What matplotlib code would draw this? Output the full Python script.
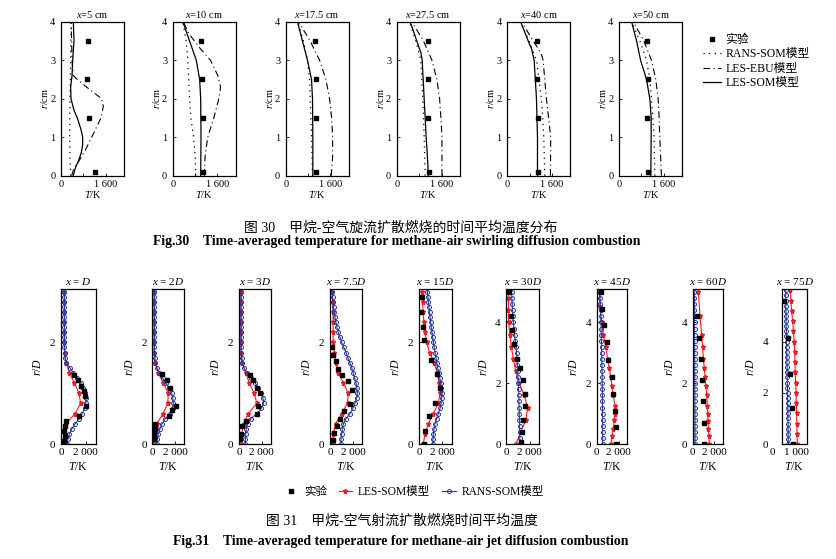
import matplotlib
matplotlib.use('Agg')
import matplotlib.pyplot as plt
from matplotlib.lines import Line2D

plt.rcParams['font.family'] = ['Liberation Serif', 'Noto Sans CJK SC']
plt.rcParams['mathtext.fontset'] = 'custom'
plt.rcParams['mathtext.rm'] = 'Liberation Serif'
plt.rcParams['mathtext.it'] = 'Liberation Serif:italic'
plt.rcParams['mathtext.bf'] = 'Liberation Serif:bold'

# ---------------- Fig.30 data (swirling flame) ----------------
top_titles = ['$x$=5 cm', '$x$=10 cm', '$x$=17.5 cm', '$x$=27.5 cm', '$x$=40 cm', '$x$=50 cm']

top_exp_r = [0.1, 1.5, 2.5, 3.5]
top_exp_T = [
    [1214, 1000, 929, 976],
    [1095, 1095, 1059, 1011],
    [1077, 1089, 1077, 1053],
    [1137, 1113, 1113, 1101],
    [1101, 1101, 1078, 1066],
    [1042, 1007, 1042, 983],
]

top_som_r = [
    [0, 0.2, 0.4, 0.6, 0.8, 1.0, 1.2, 1.5, 1.7, 2.0, 2.3, 2.6, 3.0, 3.5, 4.0],
    [0, 0.5, 1.0, 1.5, 2.0, 2.5, 3.0, 3.5, 4.0],
    [0, 1.0, 2.0, 2.5, 3.0, 3.5, 4.0],
    [0, 0.3, 1.0, 2.0, 3.0, 3.2, 3.5, 4.0],
    [0, 1.0, 2.0, 3.0, 3.3, 3.5, 4.0],
    [0, 1.0, 1.5, 2.0, 2.5, 3.0, 3.5, 4.0],
]
top_som_T = [
    [440, 512, 631, 726, 774, 774, 714, 583, 464, 357, 345, 393, 417, 464, 440],
    [1000, 1005, 1011, 1005, 999, 963, 842, 602, 361],
    [969, 969, 957, 922, 778, 598, 419],
    [1125, 1113, 1053, 981, 910, 862, 718, 479],
    [1078, 1078, 1042, 959, 864, 746, 474],
    [1137, 1149, 1149, 1101, 983, 770, 628, 450],
]

top_ebu_r = [
    [0, 0.2, 0.4, 0.7, 1.0, 1.5, 1.8, 2.0, 2.3, 2.5, 2.6, 3.0, 3.5, 4.0],
    [0, 0.5, 1.0, 1.5, 2.0, 2.3, 2.6, 3.0, 3.3, 3.7, 4.0],
    [0, 0.5, 1.0, 1.5, 2.0, 2.5, 3.0, 3.5, 4.0],
    [0, 1.0, 1.5, 2.0, 2.5, 3.0, 3.5, 4.0],
    [0, 1.0, 2.0, 3.0, 3.2, 3.5, 4.0],
    [0, 1.0, 1.5, 2.0, 2.5, 3.0, 3.5, 4.0],
]
top_ebu_T = [
    [381, 464, 655, 893, 1095, 1429, 1512, 1452, 917, 583, 440, 393, 381, 357],
    [1131, 1155, 1251, 1468, 1648, 1709, 1612, 1348, 987, 566, 385],
    [1628, 1676, 1676, 1640, 1568, 1436, 1209, 874, 455],
    [1616, 1616, 1580, 1532, 1436, 1257, 957, 539],
    [1540, 1551, 1397, 1279, 1196, 924, 509],
    [1516, 1456, 1433, 1397, 1314, 1161, 888, 509],
]

top_rans_r = [
    [0, 0.5, 1.0, 1.5, 2.0, 2.5, 3.0, 3.5, 4.0],
    [0, 0.5, 1.0, 1.5, 2.0, 2.5, 3.0, 3.5, 4.0],
    [0, 0.5, 1.0, 1.5, 2.0, 2.5, 3.0, 3.5, 4.0],
    [0, 1.0, 2.0, 3.0, 3.5, 4.0],
    [0, 1.0, 2.0, 3.0, 3.5, 4.0],
    [0, 1.0, 2.0, 2.5, 3.0, 3.5, 4.0],
]
top_rans_T = [
    [345, 320, 310, 315, 321, 330, 345, 355, 369],
    [818, 806, 746, 650, 602, 570, 541, 481, 361],
    [957, 940, 922, 900, 874, 850, 778, 634, 431],
    [1017, 981, 933, 862, 682, 455],
    [1338, 1303, 1220, 1042, 780, 450],
    [1279, 1255, 1161, 1101, 983, 746, 450],
]

# ---------------- Fig.31 data (jet flame) ----------------
bot_titles = ['$x$ = $D$', '$x$ = 2$D$', '$x$ = 3$D$', '$x$ = 7.5$D$', '$x$ = 15$D$',
              '$x$ = 30$D$', '$x$ = 45$D$', '$x$ = 60$D$', '$x$ = 75$D$']

r_near = [0.0, 0.1, 0.2, 0.3, 0.4, 0.5, 0.6, 0.7, 0.8, 0.9, 1.0, 1.1, 1.2, 1.3, 1.4, 1.5,
          1.6, 1.7, 1.8, 1.9, 2.0, 2.1, 2.2, 2.3, 2.4, 2.5, 2.6, 2.7, 2.8, 2.9, 3.0]
r_near_red = [0.0, 0.2, 0.4, 0.6, 0.8, 1.0, 1.2, 1.4, 1.6, 1.8, 2.0, 2.2, 2.4, 2.6, 2.8, 3.0]
r_far = [0.0, 0.2, 0.4, 0.6, 0.8, 1.0, 1.2, 1.4, 1.6, 1.8, 2.0, 2.2, 2.4, 2.6, 2.8, 3.0,
         3.2, 3.4, 3.6, 3.8, 4.0, 4.2, 4.4, 4.6, 4.8, 5.0]
r_far9 = [0.0, 0.2, 0.4, 0.6, 0.8, 1.0, 1.2, 1.4, 1.6, 1.8, 2.0, 2.2, 2.4, 2.6, 2.8, 3.0,
          3.2, 3.4, 3.6, 3.8, 4.0, 4.2, 4.4, 4.6, 4.8, 5.0, 5.2, 5.4, 5.6, 5.8, 6.0]
r_far9_red = [0.0, 0.4, 0.8, 1.2, 1.6, 2.0, 2.4, 2.8, 3.2, 3.6, 4.0, 4.4, 4.8, 5.2, 5.6, 6.0]

rans_r = [r_near, r_near, r_near, r_near, r_near, r_far, r_far, r_far, r_far9]
rans_T = [
    [480, 560, 680, 880, 1150, 1450, 1700, 1900, 2000, 2000, 1920, 1780, 1600, 1320, 1000, 720,
     420, 320, 290, 280, 280, 280, 280, 280, 280, 280, 280, 280, 280, 280, 280],
    [380, 440, 520, 670, 850, 1150, 1550, 1780, 1840, 1800, 1690, 1460, 1200, 900, 620, 400,
     280, 220, 180, 180, 180, 180, 180, 180, 180, 180, 180, 180, 180, 180, 180],
    [530, 560, 590, 640, 750, 1050, 1550, 1950, 2150, 2100, 1950, 1700, 1420, 1050, 680, 420,
     280, 220, 180, 180, 180, 180, 180, 180, 180, 180, 180, 180, 180, 180, 180],
    [925, 960, 1010, 1080, 1160, 1390, 1730, 1980, 2170, 2300, 2370, 2320, 2250, 2130, 2010, 1880,
     1720, 1550, 1390, 1200, 1010, 860, 720, 600, 510, 430, 370, 310, 260, 220, 200],
    [1170, 1200, 1230, 1290, 1370, 1510, 1660, 1800, 1890, 1940, 1950, 1920, 1860, 1780, 1690, 1600,
     1530, 1450, 1370, 1300, 1230, 1170, 1110, 1050, 1000, 940, 900, 850, 800, 760, 710],
    [1160, 1150, 1140, 1130, 1115, 1100, 1090, 1075, 1060, 1040, 1020, 990, 960, 930, 900, 870,
     820, 760, 700, 650, 600, 560, 530, 500, 470, 450],
    [550, 548, 545, 542, 540, 535, 530, 525, 520, 515, 510, 500, 490, 480, 470, 455,
     440, 425, 410, 400, 390, 370, 350, 330, 315, 300],
    [220, 218, 216, 214, 212, 210, 208, 206, 204, 202, 200, 197, 194, 191, 188, 185,
     182, 179, 176, 173, 170, 168, 166, 164, 162, 160],
    [420, 415, 410, 405, 400, 395, 390, 385, 378, 372, 365, 358, 350, 343, 336, 330,
     322, 315, 308, 300, 293, 286, 279, 272, 265, 258, 252, 246, 240, 236, 233],
]

les_r = [r_near_red, r_near_red, r_near_red, r_near_red, r_near_red,
         [0, 0.4, 0.8, 1.2, 1.6, 2.0, 2.4, 2.8, 3.2, 3.6, 4.0, 4.4, 4.8, 5.0],
         [0, 0.25, 0.5, 0.8, 1.0, 1.25, 1.6, 1.9, 2.2, 2.5, 2.8, 3.2, 3.6, 4.0, 4.5, 5.0],
         [0, 0.25, 0.5, 0.75, 1.0, 1.25, 1.6, 1.9, 2.2, 2.5, 2.8, 3.2, 3.6, 4.2, 5.0],
         r_far9_red]
les_T = [
    [300, 300, 400, 1150, 1580, 1450, 1080, 680, 400, 300, 280, 280, 280, 280, 280, 280],
    [150, 200, 400, 950, 1350, 1400, 960, 520, 250, 180, 170, 170, 170, 170, 170, 170],
    [180, 240, 400, 830, 1560, 1330, 900, 600, 300, 200, 180, 180, 180, 180, 180, 180],
    [230, 290, 490, 1000, 1520, 1580, 1160, 720, 520, 380, 290, 260, 270, 260, 230, 200],
    [370, 510, 800, 1230, 1660, 1800, 1720, 1550, 1300, 900, 660, 510, 420, 350, 300, 230],
    [820, 1230, 1680, 1800, 1530, 1100, 800, 600, 430, 290, 200, 180, 180, 200],
    [1307, 1390, 1520, 1610, 1650, 1670, 1520, 1400, 1280, 1140, 1000, 820, 610, 460, 300, 240],
    [1555, 1510, 1460, 1430, 1400, 1360, 1306, 1230, 1150, 1080, 1000, 920, 840, 684, 529],
    [1048, 1030, 1010, 995, 975, 955, 930, 900, 880, 860, 820, 780, 720, 650, 600, 540],
]

exp_r = [
    [0.05, 0.15, 0.25, 0.35, 0.45, 0.55, 0.75, 0.95, 1.05, 1.15, 1.25, 1.35],
    [0.1, 0.2, 0.3, 0.4, 0.55, 0.67, 0.75, 1.1, 1.25, 1.37],
    [0.1, 0.2, 0.35, 0.45, 0.6, 0.75, 1.0, 1.1, 1.25, 1.35],
    [0.08, 0.21, 0.35, 0.5, 0.65, 0.79, 1.07, 1.23, 1.35, 1.48, 1.63, 1.75, 1.9],
    [0.0, 0.25, 0.55, 0.8, 1.1, 1.38, 1.65, 2.05, 2.3, 2.6, 2.9],
    [0.05, 0.4, 0.8, 1.25, 1.65, 2.1, 2.5, 2.8, 3.3, 3.75, 4.2, 5.0],
    [0.0, 0.55, 1.1, 1.65, 2.2, 2.78, 3.35, 3.9, 4.45, 5.0],
    [0, 0.7, 1.4, 2.1, 2.8, 3.5, 4.2],
    [0, 1.4, 2.75, 4.15, 5.6],
]
exp_T = [
    [250, 300, 280, 330, 420, 1480, 2000, 1950, 1850, 1650, 1400, 1050],
    [150, 180, 220, 250, 1500, 1750, 2040, 1550, 1250, 880],
    [100, 150, 250, 590, 1560, 1700, 1800, 1560, 1260, 970],
    [231, 376, 578, 867, 1214, 1734, 1878, 1532, 1011, 722, 491, 289, 202],
    [460, 510, 890, 1370, 1800, 1520, 1030, 450, 320, 170, 230],
    [1220, 1300, 1440, 1610, 1580, 1440, 1160, 900, 680, 510, 370, 230],
    [1770, 1760, 1670, 1460, 1370, 1060, 910, 700, 520, 370],
    [1090, 1090, 1000, 900, 750, 590, 430],
    [770, 650, 540, 420, 140],
]

bot_ymax = [3.05, 3.05, 3.05, 3.05, 3.05, 5.1, 5.1, 5.1, 6.05]
bot_xmax = [2800, 2800, 2800, 2800, 2800, 2800, 2800, 2800, 1700]

# ---------------- layout (pixels) ----------------
W, H = 837, 559
top_left = [61, 172.7, 285.7, 396.7, 507.3, 619]
bot_left = [61, 152.3, 239, 330, 419, 506.3, 596.7, 692.7, 782.3]
bot_width = [34.7, 32, 32, 32.3, 32.7, 33, 30.6, 30, 24.4]

red = '#f01c24'
blue = '#2b3a9a'


def box(left, top, width, height):
    return [left / W, 1 - (top + height) / H, width / W, height / H]


def style(ax, size, ypad=4):
    for s in ax.spines.values():
        s.set_linewidth(0.9)
    ax.tick_params(direction='in', length=2.5, width=0.6, labelsize=size)
    ax.tick_params(axis='x', pad=3)
    ax.tick_params(axis='y', pad=ypad)


fig = plt.figure(figsize=(W / 100, H / 100), dpi=100)

rans_ls = (0, (1, 3.5))
ebu_ls = (0, (6, 3, 1, 3))

for i in range(6):
    ax = fig.add_axes(box(top_left[i], 21.7, 63, 154))
    ax.plot(top_rans_T[i], top_rans_r[i], color='k', lw=0.9, ls=rans_ls)
    ax.plot(top_ebu_T[i], top_ebu_r[i], color='k', lw=0.8, ls=ebu_ls)
    ax.plot(top_som_T[i], top_som_r[i], color='k', lw=0.9)
    ax.plot(top_exp_T[i], top_exp_r, 's', color='k', ms=3)
    ax.set_xlim(0, 2250)
    ax.set_ylim(0, 4)
    ax.set_xticks([0, 800, 1600])
    ax.set_xticklabels(['0', '', '1 600'])
    ax.set_yticks([0, 1, 2, 3, 4])
    style(ax, 7.5)
    ax.set_title(top_titles[i], fontsize=7.5, pad=2.5)
    ax.set_xlabel(r'$T$/K', fontsize=7.5, labelpad=0)
    ax.set_ylabel(r'$r$/cm', fontsize=7.5, labelpad=0)

top_handles = [
    Line2D([], [], ls='none', marker='s', color='k', ms=3),
    Line2D([], [], color='k', lw=0.9, ls=rans_ls),
    Line2D([], [], color='k', lw=0.8, ls=ebu_ls),
    Line2D([], [], color='k', lw=0.9),
]
fig.legend(top_handles, ['实验', 'RANS-SOM模型', 'LES-EBU模型', 'LES-SOM模型'],
           loc='upper left', bbox_to_anchor=(703 / W, 1 - 34 / H), frameon=False,
           fontsize=8.5, handlelength=1.5, handletextpad=0.4, labelspacing=0.2,
           borderaxespad=0, borderpad=0)

for i in range(9):
    ax = fig.add_axes(box(bot_left[i], 289, bot_width[i], 155))
    ax.plot(les_T[i], les_r[i], color=red, lw=0.8, marker='*', ms=3.6)
    ax.plot(rans_T[i], rans_r[i], color=blue, lw=0.8, marker='o', ms=2.9,
            mfc='none', mec=blue, mew=0.7)
    ax.plot(exp_T[i], exp_r[i], 's', color='k', ms=3)
    ax.set_xlim(0, bot_xmax[i])
    ax.set_ylim(0, bot_ymax[i])
    if i < 8:
        ax.set_xticks([0, 2000])
        ax.set_xticklabels(['0', '2 000'])
        style(ax, 8)
    else:
        # last panel: the "0" label sits left of the spine, clear of "1 000"
        ax.set_xticks([0, 1000])
        ax.set_xticklabels(['', '1 000'])
        style(ax, 8, ypad=10)
        ax.annotate('0', xy=(0, 0), xycoords=('data', 'axes fraction'),
                    xytext=(-7, -3), textcoords='offset points',
                    ha='center', va='top', fontsize=8)
    ax.set_yticks([0, 2] if i < 5 else [0, 2, 4])
    ax.set_title(bot_titles[i], fontsize=8, pad=3)
    ax.set_xlabel(r'$T$/K', fontsize=8.5, labelpad=3)
    ax.set_ylabel(r'$r$/$D$', fontsize=8.5, labelpad=4)

bot_handles = [
    Line2D([], [], ls='none', marker='s', color='k', ms=2.5),
    Line2D([], [], color=red, lw=0.8, marker='*', ms=3.6),
    Line2D([], [], color=blue, lw=0.8, marker='o', ms=2.9, mfc='none', mec=blue, mew=0.7),
]
fig.legend(bot_handles, ['实验', 'LES-SOM模型', 'RANS-SOM模型'], ncol=3,
           loc='center', bbox_to_anchor=(414 / W, 1 - 492 / H), frameon=False,
           fontsize=8.3, handlelength=1.2, handletextpad=0.5, columnspacing=1.0,
           borderaxespad=0, borderpad=0)

fig.text(401 / W, 1 - 228 / H, '图 30    甲烷-空气旋流扩散燃烧的时间平均温度分布',
         ha='center', va='center', fontsize=10, fontweight='medium')
fig.text(397 / W, 1 - 242 / H,
         'Fig.30    Time-averaged temperature for methane-air swirling diffusion combustion',
         ha='center', va='center', fontsize=9.9, fontweight='bold')
fig.text(402 / W, 1 - 521 / H, '图 31    甲烷-空气射流扩散燃烧时间平均温度',
         ha='center', va='center', fontsize=10, fontweight='medium')
fig.text(401 / W, 1 - 541 / H,
         'Fig.31    Time-averaged temperature for methane-air jet diffusion combustion',
         ha='center', va='center', fontsize=9.9, fontweight='bold')

fig.savefig('out.png', dpi=100)
